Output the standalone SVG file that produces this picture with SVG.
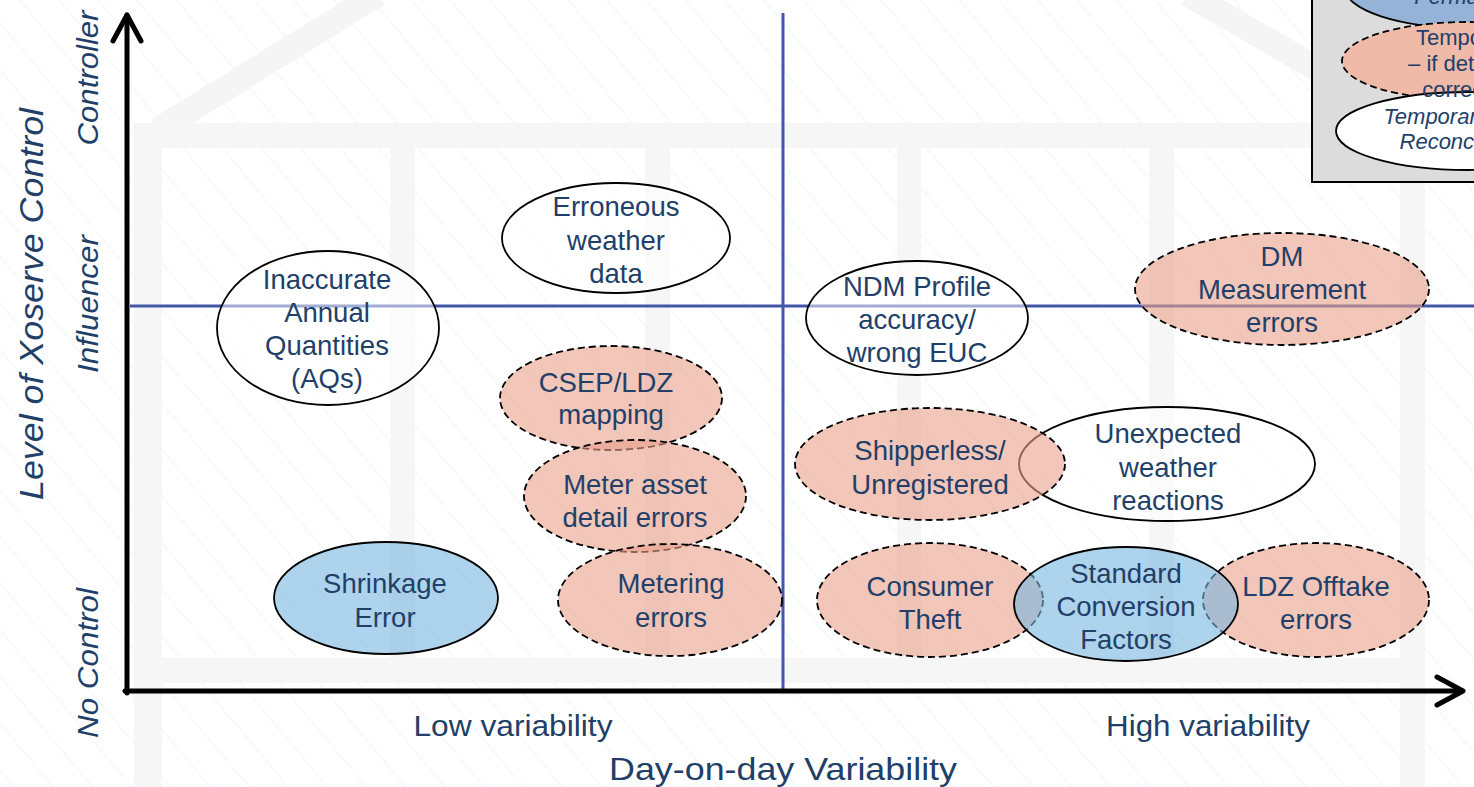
<svg xmlns="http://www.w3.org/2000/svg" width="1474" height="787" viewBox="0 0 1474 787">
<defs>
<pattern id="hatch" patternUnits="userSpaceOnUse" width="30" height="30" patternTransform="rotate(-40)">
<line x1="15" y1="0" x2="15" y2="30" stroke="#ebf6f6" stroke-width="1"/>
</pattern>
<style>
.t{font-family:"Liberation Sans",Arial,sans-serif;font-size:27.5px;fill:#213f68;text-anchor:middle}
.ax{font-family:"Liberation Sans",Arial,sans-serif;fill:#213f68;text-anchor:middle}
.it{font-style:italic}
.band{fill:#f6f6f6}
.white{fill:#ffffff;fill-opacity:0.5;stroke:#000;stroke-width:1.8}
.salmon{fill:#e9a08a;fill-opacity:0.6;stroke:#000;stroke-width:1.8;stroke-dasharray:7 4}
.blue{fill:#78b6df;fill-opacity:0.6;stroke:#000;stroke-width:1.8}
.quad{stroke:#4257a8;stroke-width:3;fill:none}
.axis{stroke:#000;stroke-width:5;fill:none;stroke-linecap:round;stroke-linejoin:round}
.lg{font-family:"Liberation Sans",Arial,sans-serif;font-size:22px;fill:#213f68;text-anchor:middle}
</style>
</defs>
<rect width="1474" height="787" fill="#ffffff"/>
<g id="background">
<rect width="1474" height="787" fill="url(#hatch)"/>
<line x1="158" y1="130" x2="378" y2="-6" stroke="#f5f5f5" stroke-width="25"/>
<line x1="1188" y1="-6" x2="1430" y2="134" stroke="#f5f5f5" stroke-width="25"/>
<rect class="band" x="140" y="123" width="1285" height="25"/>
<rect class="band" x="134" y="123" width="28" height="664"/>
<rect class="band" x="1400" y="123" width="25" height="664"/>
<rect class="band" x="390" y="148" width="25" height="510"/>
<rect class="band" x="645" y="148" width="25" height="510"/>
<rect class="band" x="897" y="148" width="24" height="510"/>
<rect class="band" x="1149" y="148" width="25" height="510"/>
<rect class="band" x="140" y="658" width="1285" height="25"/>
</g>
<g id="quadrants">
<line class="quad" x1="783" y1="13" x2="783" y2="692"/>
<line class="quad" x1="130" y1="306" x2="1474" y2="306"/>
</g>
<g id="legend">
<rect x="1312" y="-4" width="200" height="186" fill="#dcdcdc" stroke="#000" stroke-width="2"/>
<ellipse cx="1468" cy="-12" rx="123" ry="40" fill="#95b3d7" stroke="#000" stroke-width="1.8"/>
<ellipse cx="1468" cy="61" rx="126" ry="39" fill="#f0baa9" stroke="#000" stroke-width="1.8" stroke-dasharray="7 4"/>
<ellipse cx="1468" cy="131" rx="132" ry="39" fill="#ffffff" stroke="#000" stroke-width="1.8"/>
<text class="lg it" x="1468" y="4">Permanent</text>
<text class="lg" x="1468" y="45">Temporary</text>
<text class="lg" x="1468" y="71">– if detected</text>
<text class="lg" x="1468" y="97">corrected</text>
<text class="lg it" x="1468" y="124">Temporary – until</text>
<text class="lg it" x="1468" y="149">Reconciliation</text>
</g>
<g id="node-aq">
<ellipse class="white" cx="328" cy="328" rx="111" ry="77"/>
<text class="t" x="327"><tspan x="327" y="289">Inaccurate</tspan><tspan x="327" y="322">Annual</tspan><tspan x="327" y="355">Quantities</tspan><tspan x="327" y="388">(AQs)</tspan></text>
</g>
<g id="node-weather-data">
<ellipse class="white" cx="616" cy="238" rx="114" ry="55"/>
<text class="t"><tspan x="616" y="216">Erroneous</tspan><tspan x="616" y="250">weather</tspan><tspan x="616" y="283">data</tspan></text>
</g>
<g id="node-ndm">
<ellipse class="white" cx="917" cy="318" rx="111" ry="57"/>
<text class="t"><tspan x="917" y="296">NDM Profile</tspan><tspan x="917" y="329">accuracy/</tspan><tspan x="917" y="362">wrong EUC</tspan></text>
</g>
<g id="node-unexpected-weather">
<ellipse class="white" cx="1167" cy="464" rx="148" ry="57"/>
<text class="t"><tspan x="1168" y="443">Unexpected</tspan><tspan x="1168" y="477">weather</tspan><tspan x="1168" y="510">reactions</tspan></text>
</g>
<g id="node-csep">
<ellipse class="salmon" cx="611" cy="398" rx="111" ry="52"/>
<text class="t"><tspan x="606" y="392">CSEP/LDZ</tspan><tspan x="611" y="424">mapping</tspan></text>
</g>
<g id="node-meter-asset">
<ellipse class="salmon" cx="635" cy="496" rx="111" ry="56"/>
<text class="t"><tspan x="635" y="494">Meter asset</tspan><tspan x="635" y="527">detail errors</tspan></text>
</g>
<g id="node-metering">
<ellipse class="salmon" cx="670" cy="600" rx="112" ry="56"/>
<text class="t"><tspan x="671" y="593">Metering</tspan><tspan x="671" y="627">errors</tspan></text>
</g>
<g id="node-dm">
<ellipse class="salmon" cx="1282" cy="289" rx="147" ry="56"/>
<text class="t"><tspan x="1282" y="266">DM</tspan><tspan x="1282" y="299">Measurement</tspan><tspan x="1282" y="332">errors</tspan></text>
</g>
<g id="node-shipperless">
<ellipse class="salmon" cx="930" cy="464" rx="135" ry="56"/>
<text class="t"><tspan x="930" y="460">Shipperless/</tspan><tspan x="930" y="494">Unregistered</tspan></text>
</g>
<g id="node-theft">
<ellipse class="salmon" cx="930" cy="600" rx="113" ry="57"/>
<text class="t"><tspan x="930" y="596">Consumer</tspan><tspan x="930" y="629">Theft</tspan></text>
</g>
<g id="node-ldz-offtake">
<ellipse class="salmon" cx="1316" cy="600" rx="113" ry="57"/>
<text class="t"><tspan x="1316" y="596">LDZ Offtake</tspan><tspan x="1316" y="629">errors</tspan></text>
</g>
<g id="node-shrinkage">
<ellipse class="blue" cx="386" cy="598" rx="112" ry="56"/>
<text class="t"><tspan x="385" y="593">Shrinkage</tspan><tspan x="385" y="627">Error</tspan></text>
</g>
<g id="node-scf">
<ellipse class="blue" cx="1126" cy="604" rx="112" ry="57"/>
<text class="t"><tspan x="1126" y="583">Standard</tspan><tspan x="1126" y="616">Conversion</tspan><tspan x="1126" y="649">Factors</tspan></text>
</g>
<g id="axes">
<path class="axis" d="M127 693 L127 15"/>
<path class="axis" d="M113 41 L127 15 L141 41"/>
<path class="axis" d="M125 691 L1462 691"/>
<path class="axis" d="M1437 677 L1463 691 L1437 705"/>
</g>
<g id="axis-labels">
<text class="ax it" font-size="29" transform="translate(98,78) rotate(-90)" textLength="135" lengthAdjust="spacingAndGlyphs">Controller</text>
<text class="ax it" font-size="29" transform="translate(98,304) rotate(-90)" textLength="138" lengthAdjust="spacingAndGlyphs">Influencer</text>
<text class="ax it" font-size="29" transform="translate(98,663) rotate(-90)" textLength="150" lengthAdjust="spacingAndGlyphs">No Control</text>
<text class="ax it" font-size="33" transform="translate(43,304) rotate(-90)" textLength="392" lengthAdjust="spacingAndGlyphs">Level of Xoserve Control</text>
<text class="ax" font-size="29" x="513" y="736" textLength="199" lengthAdjust="spacingAndGlyphs">Low variability</text>
<text class="ax" font-size="29" x="1208" y="736" textLength="204" lengthAdjust="spacingAndGlyphs">High variability</text>
<text class="ax" font-size="32" x="783" y="780" textLength="348" lengthAdjust="spacingAndGlyphs">Day-on-day Variability</text>
</g>
</svg>
